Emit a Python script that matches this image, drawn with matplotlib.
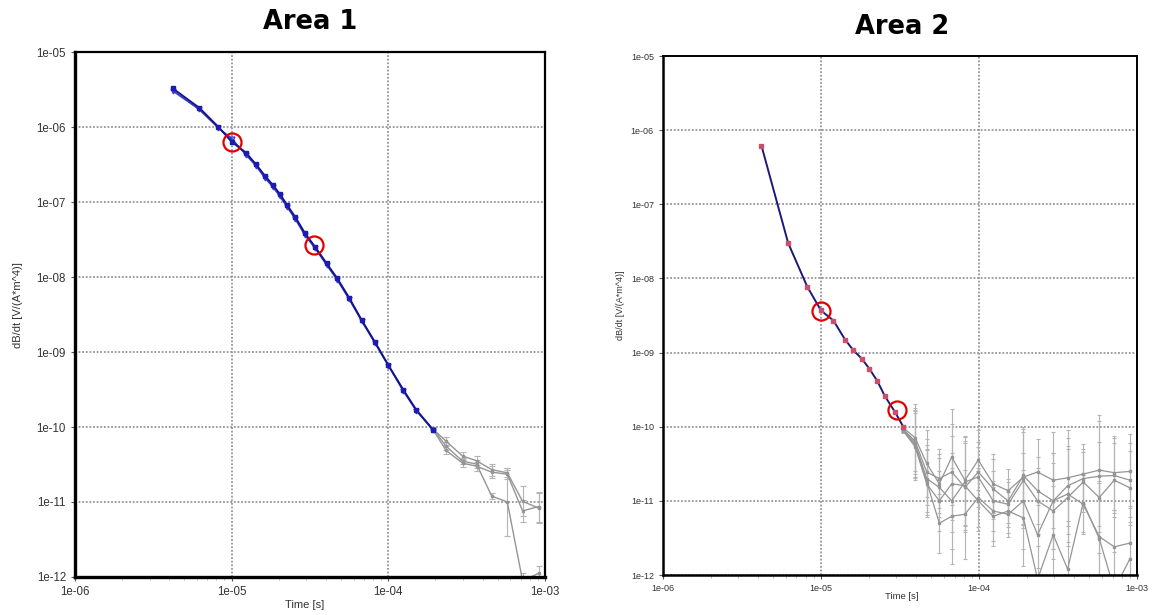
import matplotlib
matplotlib.use("Agg")
import matplotlib.pyplot as plt
import numpy as np
from matplotlib.ticker import FuncFormatter, LogLocator, NullLocator


# AREA 1 DATA

# early time decay, two overlapping soundings (blue)
a1_time = [4.2e-6, 6.2e-6, 8.2e-6, 1.0e-5, 1.23e-5, 1.43e-5, 1.63e-5, 1.83e-5, 2.03e-5, 2.26e-5,
           2.54e-5, 2.94e-5, 3.4e-5, 4.04e-5, 4.72e-5, 5.62e-5, 6.76e-5, 8.2e-5, 1.0e-4, 1.25e-4,
           1.51e-4, 1.94e-4]
a1_db1 = [3.28e-6, 1.81e-6, 1.01e-6, 6.37e-7, 4.57e-7, 3.18e-7, 2.24e-7, 1.69e-7, 1.28e-7, 9.1e-8,
          6.37e-8, 3.83e-8, 2.54e-8, 1.52e-8, 9.6e-9, 5.3e-9, 2.67e-9, 1.37e-9, 6.7e-10, 3.11e-10,
          1.69e-10, 9.1e-11]
a1_db2 = [3.05e-6, 1.72e-6, 9.8e-7, 7.0e-7, 4.3e-7, 3.05e-7, 2.1e-7, 1.6e-7, 1.2e-7, 8.6e-8,
          6.0e-8, 3.6e-8, 2.45e-8, 1.45e-8, 9.2e-9, 5.1e-9, 2.6e-9, 1.33e-9, 6.6e-10, 3.0e-10,
          1.65e-10, 9.0e-11]

# late time noisy tail (gray, error in decades)
a1_tail_time = [1.94e-4, 2.33e-4, 2.98e-4, 3.66e-4, 4.57e-4, 5.75e-4, 7.2e-4, 9.1e-4]
a1_tail_a = [9.3e-11, 6.5e-11, 4.1e-11, 3.55e-11, 2.7e-11, 2.45e-11, 1.02e-11, 8.3e-12]
a1_tail_b = [9.1e-11, 4.9e-11, 3.3e-11, 3.0e-11, 2.5e-11, 2.35e-11, 7.6e-12, 8.7e-12]
a1_tail_c = [9.3e-11, 5.6e-11, 3.5e-11, 3.2e-11, 1.2e-11, 1.0e-11, 8.9e-13, 1.12e-12]
a1_err_a = [0.0, 0.05, 0.05, 0.06, 0.08, 0.06, 0.2, 0.2]
a1_err_b = [0.0, 0.05, 0.05, 0.06, 0.08, 0.06, 0.15, 0.2]
a1_err_c = [0.0, 0.05, 0.04, 0.05, 0.04, 0.45, 0.1, 0.1]

# highlighted points
a1_circ_time = [1.0e-5, 3.35e-5]
a1_circ_db = [6.4e-7, 2.67e-8]


# AREA 2 DATA

a2_time = [4.2e-6, 6.2e-6, 8.2e-6, 1.0e-5, 1.2e-5, 1.42e-5, 1.6e-5, 1.81e-5, 2.02e-5, 2.27e-5,
           2.54e-5, 2.94e-5, 3.32e-5]
a2_db = [6.2e-7, 3.0e-8, 7.7e-9, 3.7e-9, 2.7e-9, 1.5e-9, 1.08e-9, 8.3e-10, 6.1e-10, 4.15e-10,
         2.58e-10, 1.58e-10, 1.0e-10]

a2_tail_time = [3.32e-5, 3.94e-5, 4.67e-5, 5.61e-5, 6.72e-5, 8.15e-5, 9.9e-5, 1.23e-4, 1.53e-4,
                1.91e-4, 2.35e-4, 2.95e-4, 3.64e-4, 4.57e-4, 5.77e-4, 7.18e-4, 9.03e-4]
a2_tail_a = [9.7e-11, 7.1e-11, 3.2e-11, 1.7e-11, 3.9e-11, 1.9e-11, 3.55e-11, 1.7e-11, 1.37e-11,
             2.1e-11, 2.45e-11, 1.9e-11, 2.05e-11, 2.3e-11, 2.6e-11, 2.4e-11, 2.5e-11]
a2_tail_b = [9.2e-11, 6.4e-11, 2.45e-11, 2.0e-11, 2.45e-11, 1.52e-11, 2.45e-11, 1.45e-11, 1.0e-11,
             2.2e-11, 1.37e-11, 1.0e-11, 1.6e-11, 2.0e-11, 2.15e-11, 2.2e-11, 1.9e-11]
a2_tail_c = [9.4e-11, 6.0e-11, 2.0e-11, 1.52e-11, 1.0e-11, 1.8e-11, 2.1e-11, 1.0e-11, 9.0e-12,
             1.9e-11, 1.0e-11, 7.3e-12, 1.11e-11, 1.8e-11, 1.11e-11, 1.9e-11, 1.5e-11]
a2_tail_d = [9.0e-11, 5.7e-11, 1.8e-11, 5.0e-12, 6.2e-12, 6.6e-12, 1.11e-11, 7.3e-12, 6.6e-12,
             1.0e-11, 3.5e-12, 1.0e-11, 1.24e-11, 9.0e-12, 3.3e-12, 2.4e-12, 2.7e-12]
a2_tail_e = [8.7e-11, 5.4e-11, 1.7e-11, 1.0e-11, 1.7e-11, 1.6e-11, 1.0e-11, 6.2e-12, 7.3e-12,
             5.9e-12, 8.8e-13, 3.5e-12, 1.2e-12, 9.5e-12, 3.1e-12, 6.4e-13, 1.66e-12]
a2_err = [0.03, 0.45, 0.45, 0.4, 0.65, 0.6, 0.4, 0.4, 0.3, 0.65, 0.45, 0.65, 0.65, 0.4, 0.75, 0.5, 0.5]

a2_circ_time = [1.0e-5, 3.03e-5]
a2_circ_db = [3.6e-9, 1.67e-10]

tick_labels_x = [1e-6, 1e-5, 1e-4, 1e-3]
tick_labels_y = [1e-12, 1e-11, 1e-10, 1e-9, 1e-8, 1e-7, 1e-6, 1e-5]


plt.rcParams['font.family'] = ['Liberation Sans', 'DejaVu Sans']

GRAY = '#959595'
ERR = '#b4b4b4'


# errorbar in log space: err is half width in decades
def draw_tail(ax, t, vals, err, lw, cap):
    vals = np.array(vals)
    err = np.array(err)
    lower = vals - vals / 10 ** err
    upper = vals * 10 ** err - vals
    ax.errorbar(t, vals, yerr=[lower, upper], color=GRAY, ecolor=ERR, lw=lw,
                elinewidth=0.8, capsize=cap, capthick=0.8, marker='s', ms=1.5,
                mfc=GRAY, mec=GRAY, zorder=2)


def style_axes(ax, fsize, thick, thin):
    ax.set_xscale('log')
    ax.set_yscale('log')
    ax.set_xlim(1e-6, 1e-3)
    ax.set_ylim(1e-12, 1e-5)
    ax.set_xticks(tick_labels_x)
    ax.set_yticks(tick_labels_y)
    ax.xaxis.set_minor_locator(LogLocator(base=10, subs=np.arange(2, 10)))
    ax.yaxis.set_minor_locator(NullLocator())
    fmt = FuncFormatter(lambda v, p: f"{v:.0e}")
    ax.xaxis.set_major_formatter(fmt)
    ax.yaxis.set_major_formatter(fmt)
    ax.tick_params(which='major', labelsize=fsize, labelcolor='#333333', length=3,
                   width=0.8, color='#555555')
    ax.tick_params(which='minor', length=2.5, width=0.6, color='#b0b0b0')
    ax.grid(True, which='major', color=GRAY, linestyle=(0, (1, 1)), linewidth=1.3)
    ax.set_axisbelow(True)
    ax.spines['left'].set_linewidth(thick)
    ax.spines['bottom'].set_linewidth(thick)
    ax.spines['top'].set_linewidth(thin)
    ax.spines['right'].set_linewidth(thin)


fig = plt.figure(figsize=(11.57, 6.15), dpi=100)

# Area 1
ax1 = fig.add_axes([0.0648, 0.0618, 0.4062, 0.8536])
style_axes(ax1, 8.3, 2.4, 1.6)
draw_tail(ax1, a1_tail_time, a1_tail_a, a1_err_a, 1.0, 2)
draw_tail(ax1, a1_tail_time, a1_tail_b, a1_err_b, 1.0, 2)
draw_tail(ax1, a1_tail_time, a1_tail_c, a1_err_c, 1.0, 2)
ax1.plot(a1_time, a1_db2, color='#3a3ac8', lw=1.2, marker='v', ms=3.5, mfc='none',
         mec='#3a3ac8', zorder=3)
ax1.plot(a1_time, a1_db1, color='#14148c', lw=1.4, marker='s', ms=3, mfc='#1c1cb4',
         mec='#1c1cb4', zorder=4)
ax1.plot(a1_circ_time, a1_circ_db, 'o', mfc='none', mec='#e00000', ms=13, mew=1.6, zorder=6)

# Area 2
ax2 = fig.add_axes([0.573, 0.065, 0.4097, 0.8439])
style_axes(ax2, 6.5, 1.8, 1.4)
for tail in [a2_tail_a, a2_tail_b, a2_tail_c, a2_tail_d, a2_tail_e]:
    draw_tail(ax2, a2_tail_time, tail, a2_err, 0.9, 1.6)
ax2.plot(a2_time, a2_db, color='#1a1a78', lw=1.4, marker='s', ms=2.5, mfc='#c8506a',
         mec='#c8506a', zorder=4)
ax2.plot(a2_circ_time, a2_circ_db, 'o', mfc='none', mec='#e00000', ms=13, mew=1.6, zorder=6)

# titles and axis labels
fig.text(0.268, 0.964, "Area 1", family='DejaVu Sans', weight='bold', fontsize=18.5,
         ha='center', va='center')
fig.text(0.7796, 0.956, "Area 2", family='DejaVu Sans', weight='bold', fontsize=18.5,
         ha='center', va='center')
fig.text(0.0156, 0.504, "dB/dt [V/(A*m^4)]", rotation=90, fontsize=8, color='#333333',
         ha='center', va='center')
fig.text(0.536, 0.504, "dB/dt [V/(A*m^4)]", rotation=90, fontsize=6.5, color='#333333',
         ha='center', va='center')
fig.text(0.2636, 0.0163, "Time [s]", fontsize=8, color='#333333', ha='center', va='center')
fig.text(0.7796, 0.0293, "Time [s]", fontsize=6.8, color='#333333', ha='center', va='center')

fig.savefig("out.png", dpi=100)
